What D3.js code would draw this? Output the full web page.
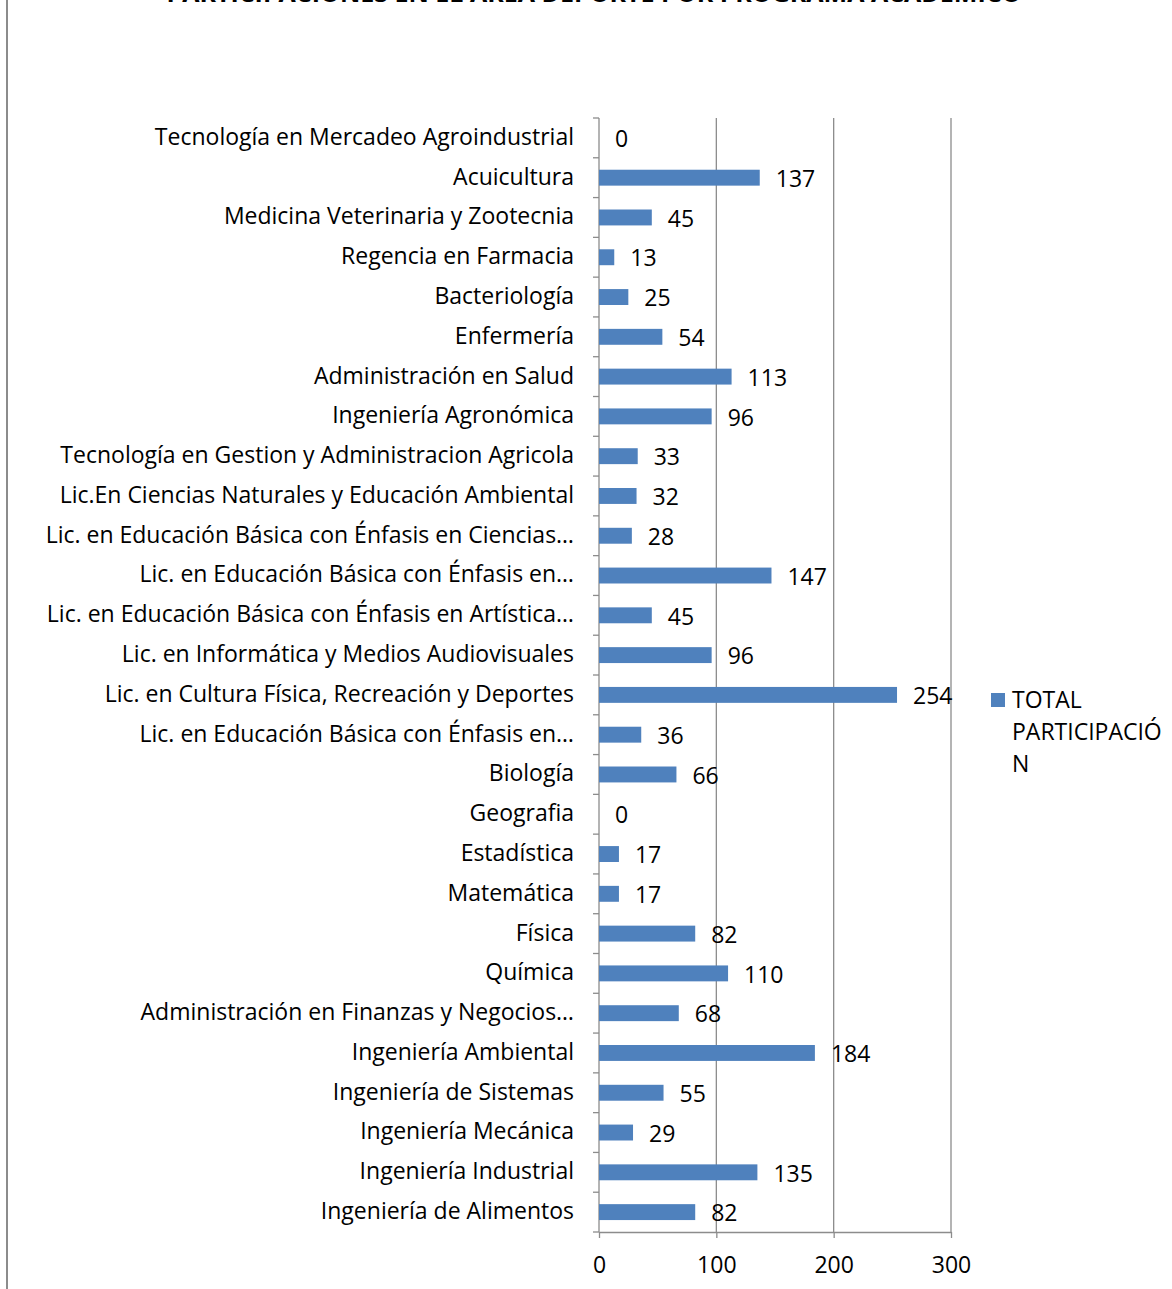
<!DOCTYPE html>
<html>
<head>
<meta charset="utf-8">
<script src="https://cdn.jsdelivr.net/npm/d3@7"></script>
<style>
body{margin:0;background:#fff;}
svg text{font-family:"Open Sans",sans-serif;}
</style>
</head>
<body>
<svg id="chart"></svg>
<script>
// program names, top to bottom as in the chart
var programas=[
  "Tecnología en Mercadeo Agroindustrial",
  "Acuicultura",
  "Medicina Veterinaria y Zootecnia",
  "Regencia en Farmacia",
  "Bacteriología",
  "Enfermería",
  "Administración en Salud",
  "Ingeniería Agronómica",
  "Tecnología en Gestion y Administracion Agricola",
  "Lic.En Ciencias Naturales y Educación Ambiental",
  "Lic. en Educación Básica con Énfasis en Ciencias…",
  "Lic. en Educación Básica con Énfasis en…",
  "Lic. en Educación Básica con Énfasis en Artística…",
  "Lic. en Informática y Medios Audiovisuales",
  "Lic. en Cultura Física, Recreación y Deportes",
  "Lic. en Educación Básica con Énfasis en…",
  "Biología",
  "Geografia",
  "Estadística",
  "Matemática",
  "Física",
  "Química",
  "Administración en Finanzas y Negocios…",
  "Ingeniería Ambiental",
  "Ingeniería de Sistemas",
  "Ingeniería Mecánica",
  "Ingeniería Industrial",
  "Ingeniería de Alimentos"
];
var totales=[0,137,45,13,25,54,113,96,33,32,28,147,45,96,254,36,66,0,17,17,82,110,68,184,55,29,135,82];
var xTicks=[0,100,200,300];
var titulo="PARTICIPACIONES EN EL ÁREA DEPORTE POR PROGRAMA ACADÉMICO";
var serieLineas=["TOTAL","PARTICIPACIÓ","N"];

var screen={width:1172,height:1289};
var margins={left:599,right:221,top:118,bottom:57};
var graph={
  width:screen.width-margins.left-margins.right,
  height:screen.height-margins.top-margins.bottom
};
var fs=23;

var svg=d3.select("#chart")
  .attr("width",screen.width)
  .attr("height",screen.height);

// chart border on the left
svg.append("line")
  .attr("x1",7).attr("x2",7)
  .attr("y1",0).attr("y2",screen.height)
  .attr("stroke","#8c8c8c").attr("stroke-width",2);

// title, mostly above the visible area (as in the original)
svg.append("text")
  .attr("x",594).attr("y",2)
  .attr("text-anchor","middle")
  .attr("font-weight","bold")
  .attr("font-size",25)
  .text(titulo);

var target=svg.append("g")
  .attr("transform","translate("+margins.left+","+margins.top+")");

var xScale=d3.scaleLinear().domain([0,300]).range([0,graph.width]);
var yScale=d3.scaleBand()
  .domain(d3.range(programas.length))
  .range([0,graph.height])
  .paddingInner(0.6).paddingOuter(0.3);
var step=yScale.step();

// vertical gridlines
target.selectAll(".grid")
  .data(xTicks.slice(1))
  .enter().append("line")
  .attr("x1",function(d){return xScale(d);})
  .attr("x2",function(d){return xScale(d);})
  .attr("y1",0).attr("y2",graph.height)
  .attr("stroke","#8c8c8c").attr("stroke-width",1.3);

// bottom axis
var xAxis=target.append("g")
  .attr("transform","translate(0,"+graph.height+")")
  .call(d3.axisBottom(xScale).tickValues(xTicks).tickSize(6).tickSizeOuter(0).tickPadding(19));
xAxis.select(".domain").attr("stroke","#8c8c8c").attr("stroke-width",1.3);
xAxis.selectAll(".tick line").attr("stroke","#8c8c8c").attr("stroke-width",1.3);
xAxis.selectAll(".tick text").attr("font-size",fs).attr("fill","#000")
  .attr("font-family","'Open Sans',sans-serif");

// left axis line with ticks between categories
target.append("line")
  .attr("x1",0).attr("x2",0)
  .attr("y1",0).attr("y2",graph.height)
  .attr("stroke","#8c8c8c").attr("stroke-width",1.3);
target.selectAll(".ytick")
  .data(d3.range(programas.length+1))
  .enter().append("line")
  .attr("x1",-6).attr("x2",0)
  .attr("y1",function(i){return i*step;})
  .attr("y2",function(i){return i*step;})
  .attr("stroke","#8c8c8c").attr("stroke-width",1.3);

// category labels
target.selectAll(".cat")
  .data(programas)
  .enter().append("text")
  .attr("x",-25)
  .attr("y",function(d,i){return yScale(i)+yScale.bandwidth()/2;})
  .attr("dy","0.3em")
  .attr("text-anchor","end")
  .attr("font-size",fs)
  .text(function(d){return d;});

// bars
target.selectAll(".bar")
  .data(totales)
  .enter().append("rect")
  .attr("x",0)
  .attr("y",function(d,i){return yScale(i);})
  .attr("width",function(d){return xScale(d);})
  .attr("height",yScale.bandwidth())
  .attr("fill","#4f81bd");

// value labels
target.selectAll(".val")
  .data(totales)
  .enter().append("text")
  .attr("x",function(d){return xScale(d)+16;})
  .attr("y",function(d,i){return yScale(i)+yScale.bandwidth()/2;})
  .attr("dy","0.4em")
  .attr("font-size",fs)
  .text(function(d){return d;});

// legend
var legend=svg.append("g").attr("transform","translate(991,693)");
legend.append("rect").attr("width",14).attr("height",14).attr("fill","#4f81bd");
legend.selectAll("text")
  .data(serieLineas)
  .enter().append("text")
  .attr("x",21)
  .attr("y",function(d,i){return 15+i*32;})
  .attr("font-size",fs)
  .text(function(d){return d;});
</script>
</body>
</html>
